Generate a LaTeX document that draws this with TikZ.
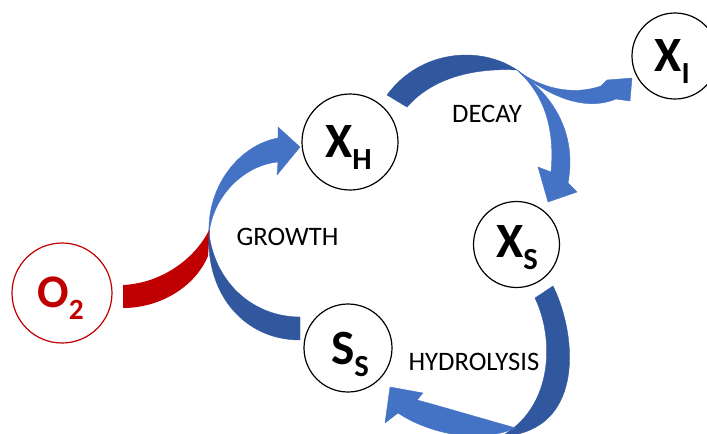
\documentclass[tikz,border=0pt]{standalone}
\usepackage{fontspec}
\setmainfont{Carlito}
\definecolor{lblue}{RGB}{68,114,196}
\definecolor{dblue}{RGB}{49,88,158}
\definecolor{ored}{RGB}{192,0,0}
\newcommand\chemsub[1]{\raisebox{-9pt}{\fontsize{23}{23}\selectfont #1}}
\begin{document}
\begin{tikzpicture}[x=0.75pt,y=-0.75pt,
  circ/.style={circle, draw=black, line width=0.9pt, inner sep=0pt},
  species/.style={anchor=base, inner sep=0pt, font=\fontsize{37}{37}\selectfont\bfseries},
  proc/.style={anchor=base, inner sep=0pt, font=\fontsize{20}{20}\selectfont},
  bandlight/.style={fill=lblue, draw=lblue, line width=0.3pt, line join=round},
  banddark/.style={fill=dblue, draw=dblue, line width=0.3pt, line join=round}]
\useasboundingbox (0,0) rectangle (707,433);
\clip (0,0) rectangle (707,433);

% O2 feed band
\fill[ored] (123,285) .. controls (165,283) and (198,255) .. (210,228) -- (208,256) .. controls (195,287) and (160,308) .. (123,308) -- cycle;

% GROWTH arrow
\path[banddark] (209,234) .. controls (206,295) and (245,340) .. (300,340) -- (300,317) .. controls (255,317) and (216,285) .. (209,234) -- cycle;
\path[bandlight] (209,234) .. controls (207,185) and (240,145) .. (278,138) -- (278,127) -- (300,147) -- (277,175) -- (278,162) .. controls (245,165) and (213,195) .. (209,234) -- cycle;

% DECAY arrow
\path[banddark] (387,95) .. controls (420,50) and (480,45) .. (517,70) .. controls (480,68) and (435,75) .. (407,107) -- cycle;
\path[bandlight] (517,70) .. controls (545,95) and (555,130) .. (551,172) -- (538,167) -- (548,202) -- (577,192) -- (568,183) .. controls (576,140) and (560,100) .. (517,70) -- cycle;
\path[bandlight] (517,70) .. controls (540,88) and (572,96) .. (601,86) -- (607,80) -- (632,78) -- (630,101) -- (616,99) .. controls (590,110) and (555,102) .. (517,70) -- cycle;

% HYDROLYSIS arrow
\path[banddark] (553,286) .. controls (575,330) and (585,418) .. (518,434) -- (505,434) .. controls (552,405) and (555,340) .. (535,298) -- cycle;
\path[bandlight] (516,428) .. controls (480,418) and (440,406) .. (417,400) -- (423,393) -- (390,387) -- (385,423) -- (398,413) .. controls (420,428) and (470,447) .. (516,428) -- cycle;

% circles
\node[circ, draw=ored, minimum size=75pt] (o2) at (62,293) {};
\node[circ, minimum size=72pt] (xh) at (350,142) {};
\node[circ, minimum size=64.5pt] (xi) at (675,56) {};
\node[circ, minimum size=64.5pt] (xs) at (516.5,244.5) {};
\node[circ, minimum size=66pt] (ss) at (348,348) {};

% species labels
\node[species, text=ored, font=\fontsize{35}{35}\selectfont\bfseries] (o2t) at (60.5,307) {O\raisebox{-9pt}{\fontsize{22}{22}\selectfont 2}};
\node[species] (xht) at (348.5,157) {X\chemsub{H}};
\node[species] (xit) at (672,71) {X\chemsub{I}};
\node[species] (xst) at (517,257) {X\chemsub{S}};
\node[species] (sst) at (350,364) {S\chemsub{S}};

% process labels
\node[proc] (growth) at (287.5,245) {GROWTH};
\node[proc] (decay) at (487,122) {DECAY};
\node[proc] (hydro) at (474,370) {HYDROLYSIS};
\end{tikzpicture}
\end{document}
